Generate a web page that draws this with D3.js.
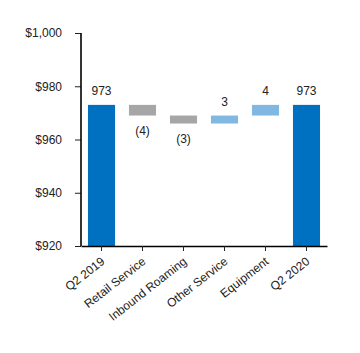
<!DOCTYPE html>
<html>
<head>
<meta charset="utf-8">
<script src="https://cdn.jsdelivr.net/npm/d3@7"></script>
<style>
	body { margin:0; background:#fff; }
	svg text { font-family: "Liberation Sans", Arial, sans-serif; fill:#222; }
</style>
</head>
<body>
<div id="chart"></div>
<script>
// waterfall data
const categories = ["Q2 2019", "Retail Service", "Inbound Roaming", "Other Service", "Equipment", "Q2 2020"]
const values = [973, -4, -3, 3, 4, 973]
const isTotal = [true, false, false, false, false, true]
const barLabels = ["973", "(4)", "(3)", "3", "4", "973"]
const yTicks = [920, 940, 960, 980, 1000]

const svgWidth = 360, svgHeight = 353
const margin = { left:81, right:33, top:33, bottom:107 }
const width = svgWidth - margin.left - margin.right,
	height = svgHeight - margin.top - margin.bottom

let svg = d3.select("#chart").append("svg")
	.attr("width", svgWidth)
	.attr("height", svgHeight)

let g = svg.append("g")
	.attr("transform", "translate(" + margin.left + ", " + margin.top + ")")

var x = d3.scaleBand()
	.domain(categories)
	.range([0, width])
	.paddingInner(0.34)
	.paddingOuter(0.17)

var y = d3.scaleLinear()
	.domain([920, 1000])
	.range([height, 0])

// running totals
let running = 0
const bars = categories.map((c, i) => {
	let lo, hi, color
	if (isTotal[i]) {
		lo = 920; hi = values[i]; running = values[i]; color = "#0070c0"
	} else {
		const prev = running
		running += values[i]
		lo = Math.min(prev, running); hi = Math.max(prev, running)
		color = values[i] < 0 ? "#a6a6a6" : "#80b8e2"
	}
	return { cat: c, lo: lo, hi: hi, color: color, label: barLabels[i], neg: values[i] < 0 }
})

g.selectAll("rect.bar")
	.data(bars)
	.enter()
	.append("rect")
	.attr("class", "bar")
	.attr("x", d => x(d.cat))
	.attr("width", x.bandwidth())
	.attr("y", d => y(d.hi))
	.attr("height", d => y(d.lo) - y(d.hi))
	.attr("fill", d => d.color)

g.selectAll("text.val")
	.data(bars)
	.enter()
	.append("text")
	.attr("class", "val")
	.attr("x", d => x(d.cat) + x.bandwidth()/2)
	.attr("y", d => d.neg ? y(d.lo) + 19 : y(d.hi) - 10)
	.attr("text-anchor", "middle")
	.attr("font-size", "12px")
	.text(d => d.label)

// axes
var yAxisCall = d3.axisLeft(y)
	.tickValues(yTicks)
	.tickSize(6)
	.tickPadding(13)
	.tickFormat(d => "$" + d3.format(",")(d))
let yAxis = g.append("g").attr("class", "y axis").call(yAxisCall)
yAxis.select(".domain").remove()
yAxis.selectAll("line").attr("stroke", "#222")
yAxis.selectAll("text").attr("font-size", "12px")
g.append("line")
	.attr("x1", 0).attr("x2", 0)
	.attr("y1", 0).attr("y2", height)
	.attr("stroke", "#000").attr("stroke-width", 1.6)

var xAxisCall = d3.axisBottom(x).tickSize(5).tickSizeOuter(0)
let xAxis = g.append("g")
	.attr("class", "x axis")
	.attr("transform", "translate(0, " + height + ")")
	.call(xAxisCall)
xAxis.select(".domain").attr("stroke", "#000").attr("stroke-width", 1.6)
xAxis.selectAll("line").attr("stroke", "#222")
xAxis.selectAll("text")
	.attr("font-size", "12px")
	.attr("text-anchor", "end")
	.attr("dy", null)
	.attr("y", 0)
	.attr("transform", "translate(4, 17) rotate(-38)")
</script>
</body>
</html>
